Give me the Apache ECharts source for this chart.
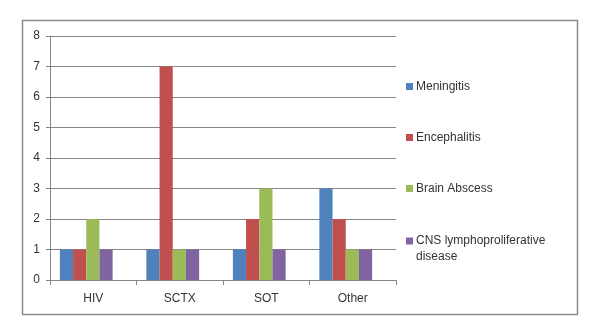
<!DOCTYPE html>
<html>
<head>
<meta charset="utf-8">
<script src="https://cdn.jsdelivr.net/npm/echarts@6/dist/echarts.min.js"></script>
<style>
  html, body { margin: 0; padding: 0; background: #fff; }
  #chart { width: 600px; height: 331px; }
</style>
</head>
<body>
<div id="chart"></div>
<script>
// 数据
const categories = ['HIV', 'SCTX', 'SOT', 'Other'];
const seriesNames = ['Meningitis', 'Encephalitis', 'Brain Abscess', 'CNS lymphoproliferative disease'];
const meningitis = [1, 1, 1, 3];
const encephalitis = [1, 7, 2, 2];
const brainAbscess = [2, 1, 3, 1];
const cnsLympho = [1, 1, 1, 1];
const colors = ['#4F81BD', '#C0504D', '#9BBB59', '#8064A2'];

const myEcharts = echarts.init(document.getElementById('chart'));
const font = 'Liberation Sans, Arial, sans-serif';
const legendTops = [78.5, 129.5, 180.5, 232.5];

const option = {
    animation: false,
    color: colors,
    // grid 0: 坐标轴和网格线; grid 1: 柱子 (原图中柱子略微偏左)
    grid: [
        { left: 50, top: 36, width: 346, height: 244 },
        { left: 43, top: 36, width: 346, height: 244 }
    ],
    graphic: [{
        type: 'rect',
        shape: { x: 22.5, y: 20.5, width: 555, height: 294 },
        style: { fill: 'none', stroke: '#8c8c8c', lineWidth: 1.5 },
        silent: true
    }],
    legend: seriesNames.map((name, i) => {
        const multi = name === 'CNS lymphoproliferative disease';
        return {
            data: [name],
            left: 406,
            top: legendTops[i],
            padding: 0,
            itemWidth: 7,
            itemHeight: multi ? 22 : 7,
            itemGap: 0,
            icon: multi ? 'path://M0,0h7v7h-7z M0,22h7' : 'rect',
            selectedMode: false,
            formatter: n => multi ? 'CNS lymphoproliferative\ndisease' : n,
            textStyle: { fontFamily: font, fontSize: 12, color: '#333', padding: [0, 0, 0, -2], lineHeight: 16 }
        };
    }),
    xAxis: [{
        type: 'category',
        gridIndex: 0,
        data: categories,
        axisLine: { lineStyle: { color: '#868686' } },
        axisTick: { show: true, length: 5, lineStyle: { color: '#868686' } },
        axisLabel: { fontFamily: font, fontSize: 12, color: '#333', margin: 13 }
    }, {
        type: 'category',
        gridIndex: 1,
        data: categories,
        show: false
    }],
    yAxis: [{
        type: 'value',
        gridIndex: 0,
        min: 0,
        max: 8,
        interval: 1,
        axisLine: { show: true, lineStyle: { color: '#868686' } },
        axisTick: { show: true, length: 4, lineStyle: { color: '#868686' } },
        axisLabel: { fontFamily: font, fontSize: 12, color: '#333', margin: 10 },
        splitLine: { lineStyle: { color: '#868686' } }
    }, {
        type: 'value',
        gridIndex: 1,
        min: 0,
        max: 8,
        interval: 1,
        show: false,
        splitLine: { show: false }
    }],
    series: [meningitis, encephalitis, brainAbscess, cnsLympho].map((d, i) => ({
        name: seriesNames[i],
        type: 'bar',
        xAxisIndex: 1,
        yAxisIndex: 1,
        data: d,
        z: 3,
        barGap: '0%',
        barCategoryGap: '39%'
    }))
};
myEcharts.setOption(option);
</script>
</body>
</html>
